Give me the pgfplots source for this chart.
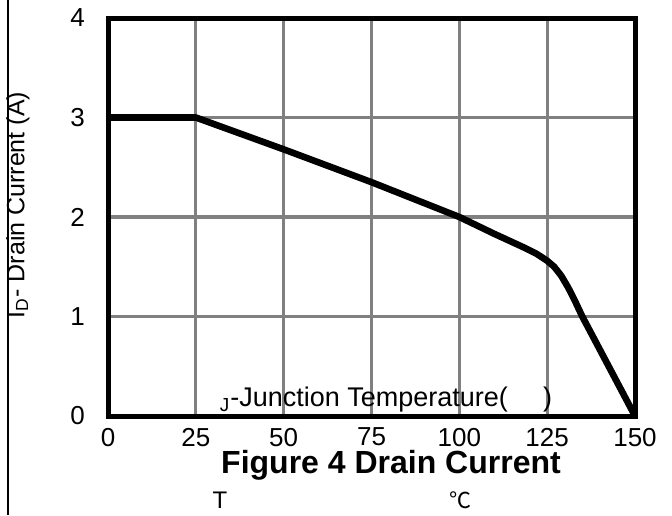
\documentclass[border=0pt]{standalone}
\usepackage{pgfplots}
\pgfplotsset{compat=1.18}
\usepackage{fontspec}
\setmainfont{Liberation Sans}
\newfontfamily\cjk{Noto Sans CJK SC}
\definecolor{gridgray}{RGB}{128,128,128}
\begin{document}
\begin{tikzpicture}
\useasboundingbox (-54pt,-49.5pt) rectangle (282pt,208pt);
\begin{axis}[
  at={(0pt,0pt)}, anchor=origin,
  scale only axis,
  width=263.5pt, height=199pt,
  xmin=0, xmax=150, ymin=0, ymax=4,
  xtick={0,25,...,150}, ytick={0,1,2,3,4},
  grid=major,
  major grid style={gridgray, line width=1.6pt},
  axis line style={black, line width=2.5pt},
  major tick length=0pt,
  tick label style={font=\fontsize{13}{14}\selectfont},
  /pgf/number format/assume math mode=true,
  xticklabel style={yshift=-2.5pt},
  yticklabel style={xshift=-8pt},
]
\addplot[black, line width=3.3pt, line join=round] coordinates {
  (0,3) (25,3) (50,2.68) (75,2.35) (100,2.0) (110,1.83) (118,1.7) (122,1.63)
  (125,1.56) (127,1.5) (129,1.41) (131,1.29) (133,1.15) (135,1.0) (150,0)
};
\end{axis}
\draw[line width=1pt] (-50pt,208pt) -- (-50pt,-49.5pt);
\node[rotate=90, font=\fontsize{12.5}{14}\selectfont] at (-45pt,105.5pt) {I\textsubscript{D}- Drain Current (A)};
\node[font=\fontsize{13.5}{15}\selectfont] at (139pt,8pt) {\textsubscript{J}-Junction Temperature(\hspace{1.3em})};
\node[font=\bfseries\fontsize{16}{18}\selectfont] at (141.5pt,-24.5pt) {Figure 4 Drain Current};
\node[font=\fontsize{12}{14}\selectfont] at (56pt,-42pt) {T};
\node[font=\cjk\fontsize{11}{13}\selectfont] at (176pt,-42pt) {℃};
\end{tikzpicture}
\end{document}
